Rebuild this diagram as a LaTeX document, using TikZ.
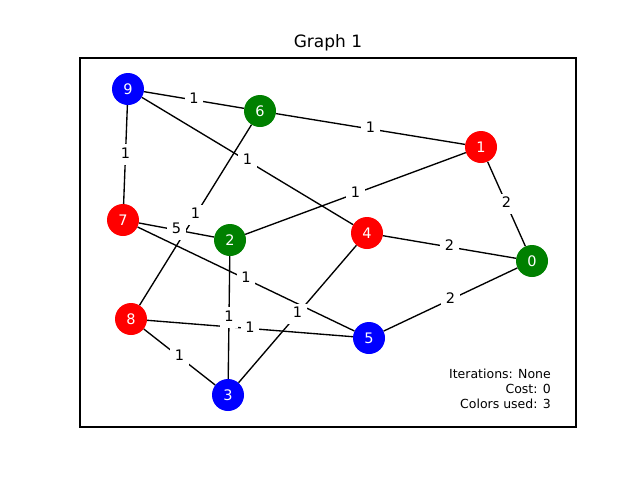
\documentclass[tikz,border=0pt]{standalone}
\usepackage{fontspec}
\setmainfont{DejaVu Sans}
\usepackage{xcolor}
\usetikzlibrary{positioning,calc}

\definecolor{mplgreen}{RGB}{0,128,0}
\definecolor{mplred}{RGB}{255,0,0}
\definecolor{mplblue}{RGB}{0,0,255}

\begin{document}
\begin{tikzpicture}[x=1pt,y=-1pt,
    vertex/.style={circle,minimum size=32pt,inner sep=0pt,text=white,font=\fontsize{14.5}{16}\selectfont},
    weight/.style={fill=white,inner xsep=4.5pt,inner ysep=3.5pt,text height=10.5pt,text depth=3pt,
        font=\fontsize{14.5}{16}\selectfont,text=black},
    edge/.style={line width=1.35pt}]
    \useasboundingbox (0,0) rectangle (640,480);

    % Frame and title
    \draw[line width=1.1pt] (80,58) rectangle (576,427);
    \node (title) at (328,43) {\fontsize{17}{19}\selectfont Graph 1};

    % Vertices
    \node[vertex,fill=mplgreen] (n0) at (532,261) {0};
    \node[vertex,fill=mplred]   (n1) at (481,147) {1};
    \node[vertex,fill=mplgreen] (n2) at (230,240) {2};
    \node[vertex,fill=mplblue]  (n3) at (228,395) {3};
    \node[vertex,fill=mplred]   (n4) at (367,233) {4};
    \node[vertex,fill=mplblue]  (n5) at (369,338) {5};
    \node[vertex,fill=mplgreen] (n6) at (260,111) {6};
    \node[vertex,fill=mplred]   (n7) at (123,220) {7};
    \node[vertex,fill=mplred]   (n8) at (131,319) {8};
    \node[vertex,fill=mplblue]  (n9) at (128,89) {9};

    % Edges
    \draw[edge] (n9) -- (n6);
    \draw[edge] (n9) -- (n7);
    \draw[edge] (n9) -- (n4);
    \draw[edge] (n6) -- (n1);
    \draw[edge] (n6) -- (n8);
    \draw[edge] (n7) -- (n2);
    \draw[edge] (n7) -- (n5);
    \draw[edge] (n2) -- (n1);
    \draw[edge] (n2) -- (n3);
    \draw[edge] (n8) -- (n5);
    \draw[edge] (n8) -- (n3);
    \draw[edge] (n4) -- (n0);
    \draw[edge] (n4) -- (n3);
    \draw[edge] (n1) -- (n0);
    \draw[edge] (n0) -- (n5);

    % Weights
    \node[weight] (w96) at ($(n9)!0.5!(n6)$) {1};
    \node[weight] (w97) at ($(n9)!0.5!(n7)$) {1};
    \node[weight] (w94) at ($(n9)!0.5!(n4)$) {1};
    \node[weight] (w61) at ($(n6)!0.5!(n1)$) {1};
    \node[weight] (w68) at ($(n6)!0.5!(n8)$) {1};
    \node[weight] (w72) at ($(n7)!0.5!(n2)$) {5};
    \node[weight] (w75) at ($(n7)!0.5!(n5)$) {1};
    \node[weight] (w21) at ($(n2)!0.5!(n1)$) {1};
    \node[weight] (w23) at ($(n2)!0.5!(n3)$) {1};
    \node[weight] (w85) at ($(n8)!0.5!(n5)$) {1};
    \node[weight] (w83) at ($(n8)!0.5!(n3)$) {1};
    \node[weight] (w40) at ($(n4)!0.5!(n0)$) {2};
    \node[weight] (w43) at ($(n4)!0.5!(n3)$) {1};
    \node[weight] (w10) at ($(n1)!0.5!(n0)$) {2};
    \node[weight] (w05) at ($(n0)!0.5!(n5)$) {2};

    % Info
    \node[anchor=east,align=right,inner sep=0pt,font=\fontsize{12.5}{15}\selectfont] (info) at (551,389)
        {Iterations: None\\Cost: 0\\Colors used: 3};
\end{tikzpicture}
\end{document}
